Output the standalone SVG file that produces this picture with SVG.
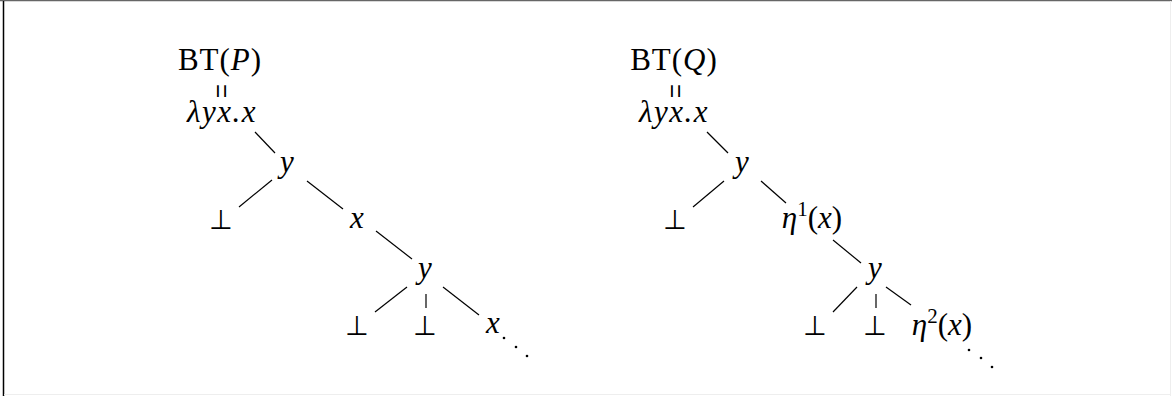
<svg xmlns="http://www.w3.org/2000/svg" width="1172" height="396" viewBox="0 0 1172 396">
<style>
.t{font-family:"Liberation Serif","Times New Roman",serif;font-size:31px;fill:#000;text-anchor:middle}
.i{font-style:italic}
.m{letter-spacing:1.5px}
.b{font-family:"DejaVu Sans",sans-serif;font-size:27px;fill:#000;text-anchor:middle}
.eq{font-family:"Liberation Serif",serif;font-size:25px;fill:#000;text-anchor:middle}
.c line{stroke:#000;stroke-width:1.2}
.d{fill:#000}
</style>
<rect x="0" y="0" width="1172" height="396" fill="#fff"/>
<line x1="0" y1="0.5" x2="1172" y2="0.5" stroke="#666" stroke-width="1.5"/>
<line x1="3.5" y1="1" x2="3.5" y2="396" stroke="#000" stroke-width="1.5"/>
<line x1="1170.5" y1="1" x2="1170.5" y2="396" stroke="#eee" stroke-width="1"/>
<line x1="4" y1="394.5" x2="1170" y2="394.5" stroke="#eee" stroke-width="1"/>

<g class="c" id="connectors">
<line x1="255" y1="132" x2="275" y2="153"/>
<line x1="272" y1="180" x2="239" y2="207"/>
<line x1="307" y1="181" x2="343" y2="209"/>
<line x1="376" y1="231" x2="412" y2="259"/>
<line x1="407" y1="287" x2="375" y2="312"/>
<line x1="426" y1="294" x2="426" y2="308"/>
<line x1="443" y1="287" x2="479" y2="315"/>
<line x1="707" y1="132" x2="728" y2="153"/>
<line x1="724" y1="181" x2="693" y2="207"/>
<line x1="761" y1="181" x2="786" y2="203"/>
<line x1="833" y1="240" x2="861" y2="263"/>
<line x1="857" y1="287" x2="833" y2="312"/>
<line x1="876" y1="294" x2="876" y2="308"/>
<line x1="886" y1="287" x2="911" y2="305"/>
</g>

<g id="left-root">
<text class="t" x="220" y="70" letter-spacing="1">BT(<tspan class="i">P</tspan>)</text>
<text class="eq" transform="translate(220,91) rotate(90) scale(1,1.4)" y="8">=</text>
<text class="t i m" x="222" y="122">λyx.x</text>
</g>
<g id="left-y1"><text class="t i" x="287" y="172">y</text></g>
<g id="left-bot1"><text class="b" x="221" y="229">⊥</text></g>
<g id="left-x1"><text class="t i" x="357" y="228">x</text></g>
<g id="left-y2"><text class="t i" x="425" y="278">y</text></g>
<g id="left-bot2"><text class="b" x="357" y="335">⊥</text></g>
<g id="left-bot3"><text class="b" x="425" y="335">⊥</text></g>
<g id="left-x2"><text class="t i" x="493" y="333">x</text>
<circle class="d" cx="504" cy="338" r="1.3"/><circle class="d" cx="516" cy="347" r="1.3"/><circle class="d" cx="527" cy="356" r="1.3"/></g>

<g id="right-root">
<text class="t" x="674" y="70" letter-spacing="1">BT(<tspan class="i">Q</tspan>)</text>
<text class="eq" transform="translate(674,91) rotate(90) scale(1,1.4)" y="8">=</text>
<text class="t i m" x="674" y="122">λyx.x</text>
</g>
<g id="right-y1"><text class="t i" x="742" y="172">y</text></g>
<g id="right-bot1"><text class="b" x="675" y="229">⊥</text></g>
<g id="right-eta1"><text class="t" x="812" y="228"><tspan class="i">η</tspan><tspan font-size="21" dy="-12">1</tspan><tspan dy="12">(</tspan><tspan class="i">x</tspan>)</text></g>
<g id="right-y2"><text class="t i" x="875" y="278">y</text></g>
<g id="right-bot2"><text class="b" x="815" y="335">⊥</text></g>
<g id="right-bot3"><text class="b" x="875" y="335">⊥</text></g>
<g id="right-eta2"><text class="t" x="942" y="335"><tspan class="i">η</tspan><tspan font-size="21" dy="-12">2</tspan><tspan dy="12">(</tspan><tspan class="i">x</tspan>)</text>
<circle class="d" cx="969" cy="350" r="1.3"/><circle class="d" cx="981" cy="358" r="1.3"/><circle class="d" cx="992" cy="367" r="1.3"/></g>
</svg>
